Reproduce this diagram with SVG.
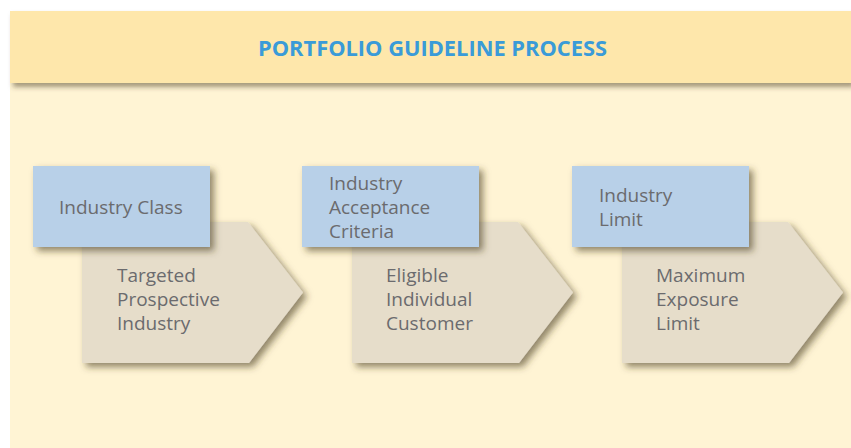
<svg xmlns="http://www.w3.org/2000/svg" width="851" height="448" viewBox="0 0 851 448">
<defs>
<filter id="sh" x="-20%" y="-20%" width="150%" height="150%">
<feDropShadow dx="4" dy="4" stdDeviation="3.5" flood-color="#4a3a1a" flood-opacity="0.6"/>
</filter>
<filter id="hsh" x="-5%" y="-20%" width="110%" height="150%">
<feDropShadow dx="3" dy="4" stdDeviation="2.5" flood-color="#4a3a1a" flood-opacity="0.5"/>
</filter>
</defs>
<style>
.box{fill:#B8D0E8;filter:url(#sh)}
.arr{fill:#E6DDCA;filter:url(#sh)}
.t{font-family:"Open Sans","Noto Sans",sans-serif;font-size:19px;fill:#6B6B6E}
.title{font-family:"Open Sans","Noto Sans",sans-serif;font-size:21px;font-weight:bold;fill:#3A9BD8}
</style>
<rect x="0" y="0" width="851" height="448" fill="#FFFFFF"/>
<rect x="10" y="83" width="841" height="365" fill="#FFF4D4"/>
<g id="header">
<rect x="10" y="11" width="841" height="72" fill="#FEE7AB" filter="url(#hsh)"/>
<text class="title" x="432.5" y="56" text-anchor="middle" textLength="349" lengthAdjust="spacingAndGlyphs">PORTFOLIO GUIDELINE PROCESS</text>
</g>
<g id="connectors"></g>
<g id="step1">
<path class="arr" d="M82,222 H248 L303,292.5 L249,363 H82 Z"/>
<rect class="box" x="33" y="166" width="177" height="81"/>
<text class="t" x="59" y="214">Industry Class</text>
<text class="t" x="117" y="282">Targeted</text>
<text class="t" x="117" y="306">Prospective</text>
<text class="t" x="117" y="330">Industry</text>
</g>
<g id="step2">
<path class="arr" d="M352,222 H518 L573,292.5 L519,363 H352 Z"/>
<rect class="box" x="302" y="166" width="177" height="81"/>
<text class="t" x="329" y="190">Industry</text>
<text class="t" x="329" y="214">Acceptance</text>
<text class="t" x="329" y="238">Criteria</text>
<text class="t" x="386" y="282">Eligible</text>
<text class="t" x="386" y="306">Individual</text>
<text class="t" x="386" y="330">Customer</text>
</g>
<g id="step3">
<path class="arr" d="M622,222 H788 L843,292.5 L789,363 H622 Z"/>
<rect class="box" x="572" y="166" width="177" height="81"/>
<text class="t" x="599" y="202">Industry</text>
<text class="t" x="599" y="226">Limit</text>
<text class="t" x="656" y="282">Maximum</text>
<text class="t" x="656" y="306">Exposure</text>
<text class="t" x="656" y="330">Limit</text>
</g>
</svg>
